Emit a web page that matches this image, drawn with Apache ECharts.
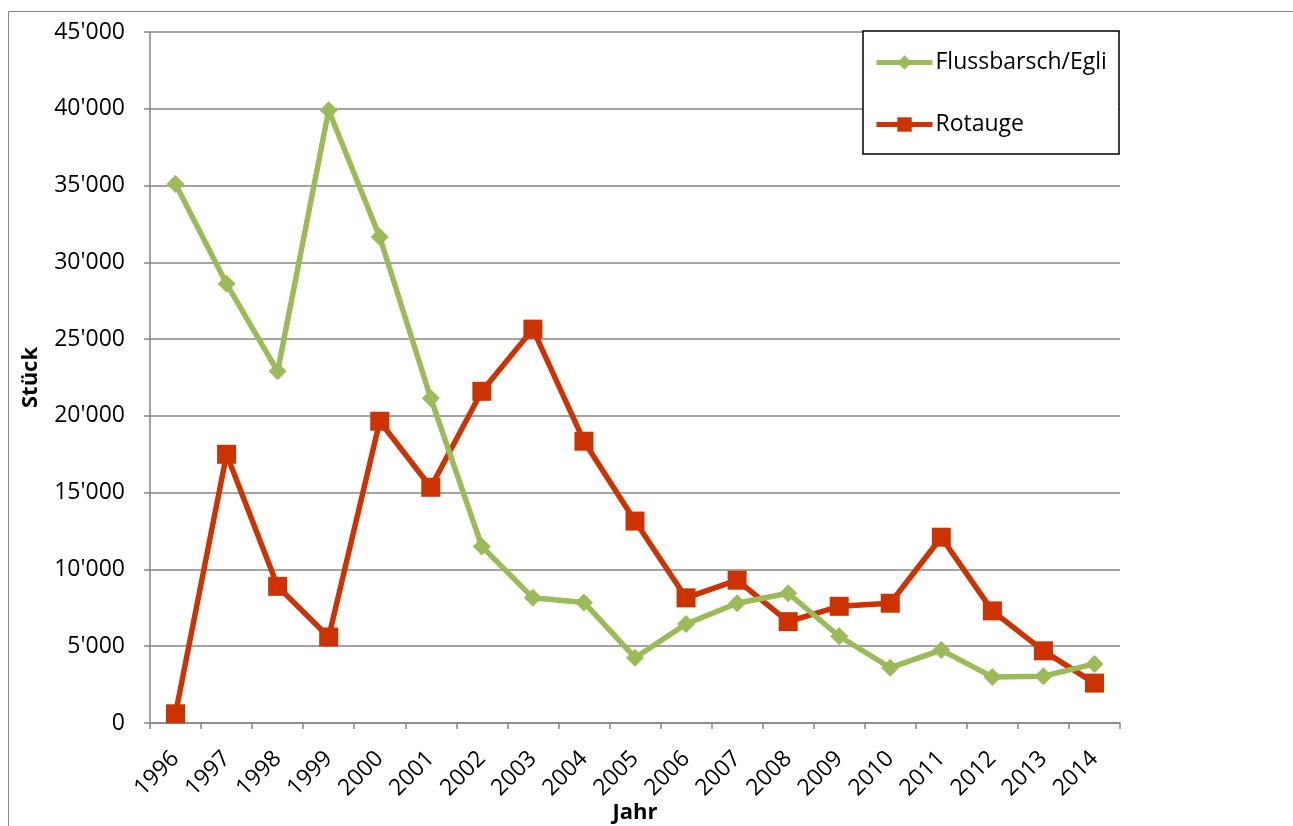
<!DOCTYPE html>
<html>
<head>
<meta charset="utf-8">
<script src="https://cdn.jsdelivr.net/npm/echarts@6/dist/echarts.min.js"></script>
<style>
html, body { margin: 0; padding: 0; background: #fff; }
#chart { width: 1293px; height: 826px; }
</style>
</head>
<body>
<div id="chart"></div>
<script>
// Jahre
const years = ['1996', '1997', '1998', '1999', '2000', '2001', '2002', '2003', '2004', '2005',
	'2006', '2007', '2008', '2009', '2010', '2011', '2012', '2013', '2014']
// Flussbarsch/Egli
const egli = [35100, 28600, 22900, 39900, 31650, 21150, 11500, 8150, 7850, 4250,
	6450, 7800, 8450, 5650, 3600, 4750, 3000, 3050, 3850]
// Rotauge
const rotauge = [600, 17500, 8900, 5600, 19650, 15350, 21600, 25650, 18350, 13150,
	8150, 9300, 6600, 7600, 7800, 12100, 7300, 4700, 2600]

const font = "'Open Sans', 'Noto Sans', sans-serif"
const gray = '#868686'

function fmt(v) {
	// 45000 -> 45'000
	return String(v).replace(/\B(?=(\d{3})+(?!\d))/g, "'")
}

const chart = echarts.init(document.getElementById('chart'))
chart.setOption({
	animation: false,
	textStyle: { fontFamily: font },
	grid: { left: 150, right: 173, top: 32, bottom: 103, containLabel: false, outerBoundsMode: 'none' },
	graphic: [
		{
			type: 'rect',
			shape: { x: 8.5, y: 11.5, width: 1300, height: 830 },
			style: { fill: 'none', stroke: gray, lineWidth: 1 },
			silent: true,
		},
		{
			type: 'rect',
			shape: { x: 863, y: 31, width: 256, height: 123 },
			style: { fill: '#fff', stroke: '#000', lineWidth: 1.5 },
			z: 5,
			silent: true,
		},
	],
	legend: {
		orient: 'vertical',
		left: 863,
		top: 31,
		padding: [20, 10, 20, 11],
		itemGap: 39,
		itemWidth: 56,
		itemHeight: 18,
		z: 10,
		lineStyle: { width: 5 },
		textStyle: { fontFamily: font, fontSize: 23, color: '#000', padding: [0, 0, 0, -2] },
		data: ['Flussbarsch/Egli', 'Rotauge'],
	},
	xAxis: {
		type: 'category',
		data: years,
		boundaryGap: true,
		name: 'Jahr',
		nameLocation: 'middle',
		nameGap: 79,
		nameMoveOverlap: false,
		nameTextStyle: { fontFamily: font, fontSize: 22, fontWeight: 'bold', color: '#000' },
		axisLine: { lineStyle: { color: gray, width: 1.5 } },
		axisTick: { show: true, length: 6, alignWithLabel: false, lineStyle: { color: gray, width: 1.5 } },
		axisLabel: { rotate: 45, fontSize: 23, color: '#000', margin: 32, interval: 0 },
		splitLine: { show: false },
	},
	yAxis: {
		type: 'value',
		min: 0,
		max: 45000,
		interval: 5000,
		name: 'Stück',
		nameLocation: 'middle',
		nameGap: 108,
		nameMoveOverlap: false,
		nameRotate: 90,
		nameTextStyle: { fontFamily: font, fontSize: 22, fontWeight: 'bold', color: '#000' },
		axisLine: { show: true, lineStyle: { color: gray, width: 1.5 } },
		axisTick: { show: true, length: 6, lineStyle: { color: gray, width: 1.5 } },
		axisLabel: { fontSize: 23, color: '#000', margin: 25, formatter: fmt },
		splitLine: { lineStyle: { color: gray, width: 1.5 } },
	},
	series: [
		{
			name: 'Flussbarsch/Egli',
			type: 'line',
			data: egli,
			symbol: 'diamond',
			symbolSize: 18,
			color: '#9BBB59',
			lineStyle: { width: 5.5, color: '#9BBB59' },
			itemStyle: { color: '#9BBB59' },
			z: 3,
		},
		{
			name: 'Rotauge',
			type: 'line',
			data: rotauge,
			symbol: 'rect',
			symbolSize: 19,
			color: '#CC3300',
			lineStyle: { width: 5.5, color: '#CC3300' },
			itemStyle: { color: '#CC3300' },
			z: 2,
		},
	],
})
</script>
</body>
</html>
